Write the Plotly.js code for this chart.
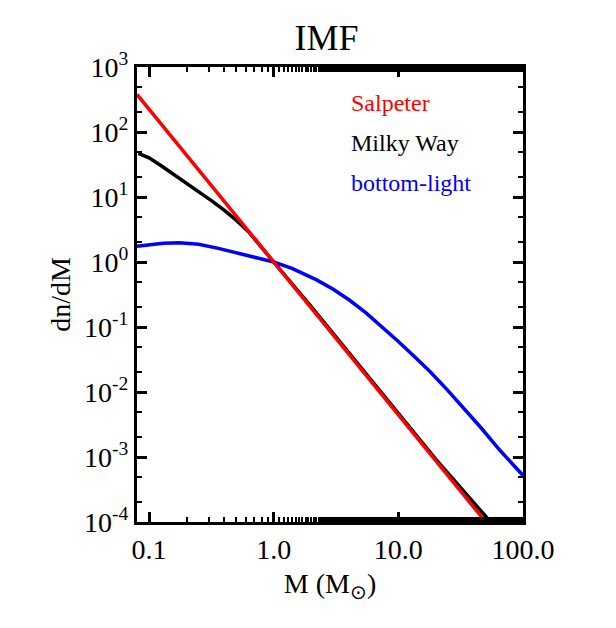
<!DOCTYPE html>
<html>
<head>
<script src="https://cdn.plot.ly/plotly-3.0.1.min.js"></script>
<style>body{margin:0;background:#fff}</style>
</head>
<body>
<div id="graph" style="width:616px;height:628px"></div>
<script>
// values
var salpeterM = [0.08, 1, 60];
var salpeterN = [378, 1, 6.6e-5];

var milkyM = [0.082, 0.1, 0.126, 0.16, 0.2, 0.25, 0.316, 0.4, 0.5, 0.63, 0.8, 1, 2, 5, 10, 20, 55];
var milkyN = [47, 40, 30, 22, 16.2, 12, 8.8, 6.3, 4.4, 2.9, 1.7, 1, 0.205, 0.0245, 0.0047, 0.00092, 0.0001];

var lightM = [0.08, 0.1, 0.13, 0.175, 0.25, 0.36, 0.5, 0.7, 1, 1.4, 2.21, 3, 4.04, 5.5, 7.4, 10, 13.5, 18, 24.8, 33, 45.3, 65, 100];
var lightN = [1.75, 1.85, 1.94, 1.98, 1.87, 1.62, 1.38, 1.18, 1.0, 0.8, 0.53, 0.38, 0.26, 0.165, 0.101, 0.06, 0.0349, 0.0205, 0.0107, 0.0058, 0.00292, 0.00128, 0.00052];

var xTicks = [0.1, 1, 10, 100];
var xLabels = ["0.1", "1.0", "10.0", "100.0"];
var yTicks = [1e-4, 1e-3, 1e-2, 1e-1, 1, 10, 100, 1000];
var yLabels = ["10<sup>-4</sup>", "10<sup>-3</sup>", "10<sup>-2</sup>", "10<sup>-1</sup>",
               "10<sup>0</sup>", "10<sup>1</sup>", "10<sup>2</sup>", "10<sup>3</sup>"];

var serif = "Liberation Serif, Times New Roman, serif";

function line(x, y, color){
    return {type: "scatter", mode: "lines", x: x, y: y,
        line: {color: color, width: 3.5}};
}

var data = [
    line(lightM, lightN, "#0000ff"),
    line(milkyM, milkyN, "#000000"),
    line(salpeterM, salpeterN, "#ff0000")
];

var axisStyle = {
    type: "log", showgrid: false, zeroline: false,
    showline: true, linewidth: 3, linecolor: "#000", mirror: "allticks",
    ticks: "inside", ticklen: 10, tickwidth: 3, tickcolor: "#000",
    minor: {ticks: "inside", ticklen: 5, tickwidth: 2, tickcolor: "#000"},
    tickfont: {family: serif, size: 28, color: "#000"}
};

var layout = {
    width: 616, height: 628,
    margin: {l: 137, r: 93, t: 67, b: 106},
    showlegend: false,
    paper_bgcolor: "#fff", plot_bgcolor: "#fff",
    title: {text: "IMF", font: {family: serif, size: 36, color: "#000"}, x: 0.53, y: 0.96},
    xaxis: Object.assign({}, axisStyle, {
        range: [Math.log10(0.08), 2],
        tickmode: "array", tickvals: xTicks, ticktext: xLabels,
        title: {text: "M (M<sub>⊙</sub>)", font: {family: serif, size: 28, color: "#000"}, standoff: 10}
    }),
    yaxis: Object.assign({}, axisStyle, {
        range: [-4, 3],
        tickmode: "array", tickvals: yTicks, ticktext: yLabels,
        title: {text: "dn/dM", font: {family: serif, size: 28, color: "#000"}, standoff: 6}
    }),
    annotations: [
        {text: "Salpeter", color: "#ff0000"},
        {text: "Milky Way", color: "#000000"},
        {text: "bottom-light", color: "#0000ff"}
    ].map(function(a, i){
        return {xref: "paper", yref: "paper", x: 0.55, y: 0.92 - i * 0.087,
            xanchor: "left", yanchor: "middle", showarrow: false, text: a.text,
            font: {family: serif, size: 24, color: a.color}};
    })
};

Plotly.newPlot("graph", data, layout, {displayModeBar: false});
</script>
</body>
</html>
